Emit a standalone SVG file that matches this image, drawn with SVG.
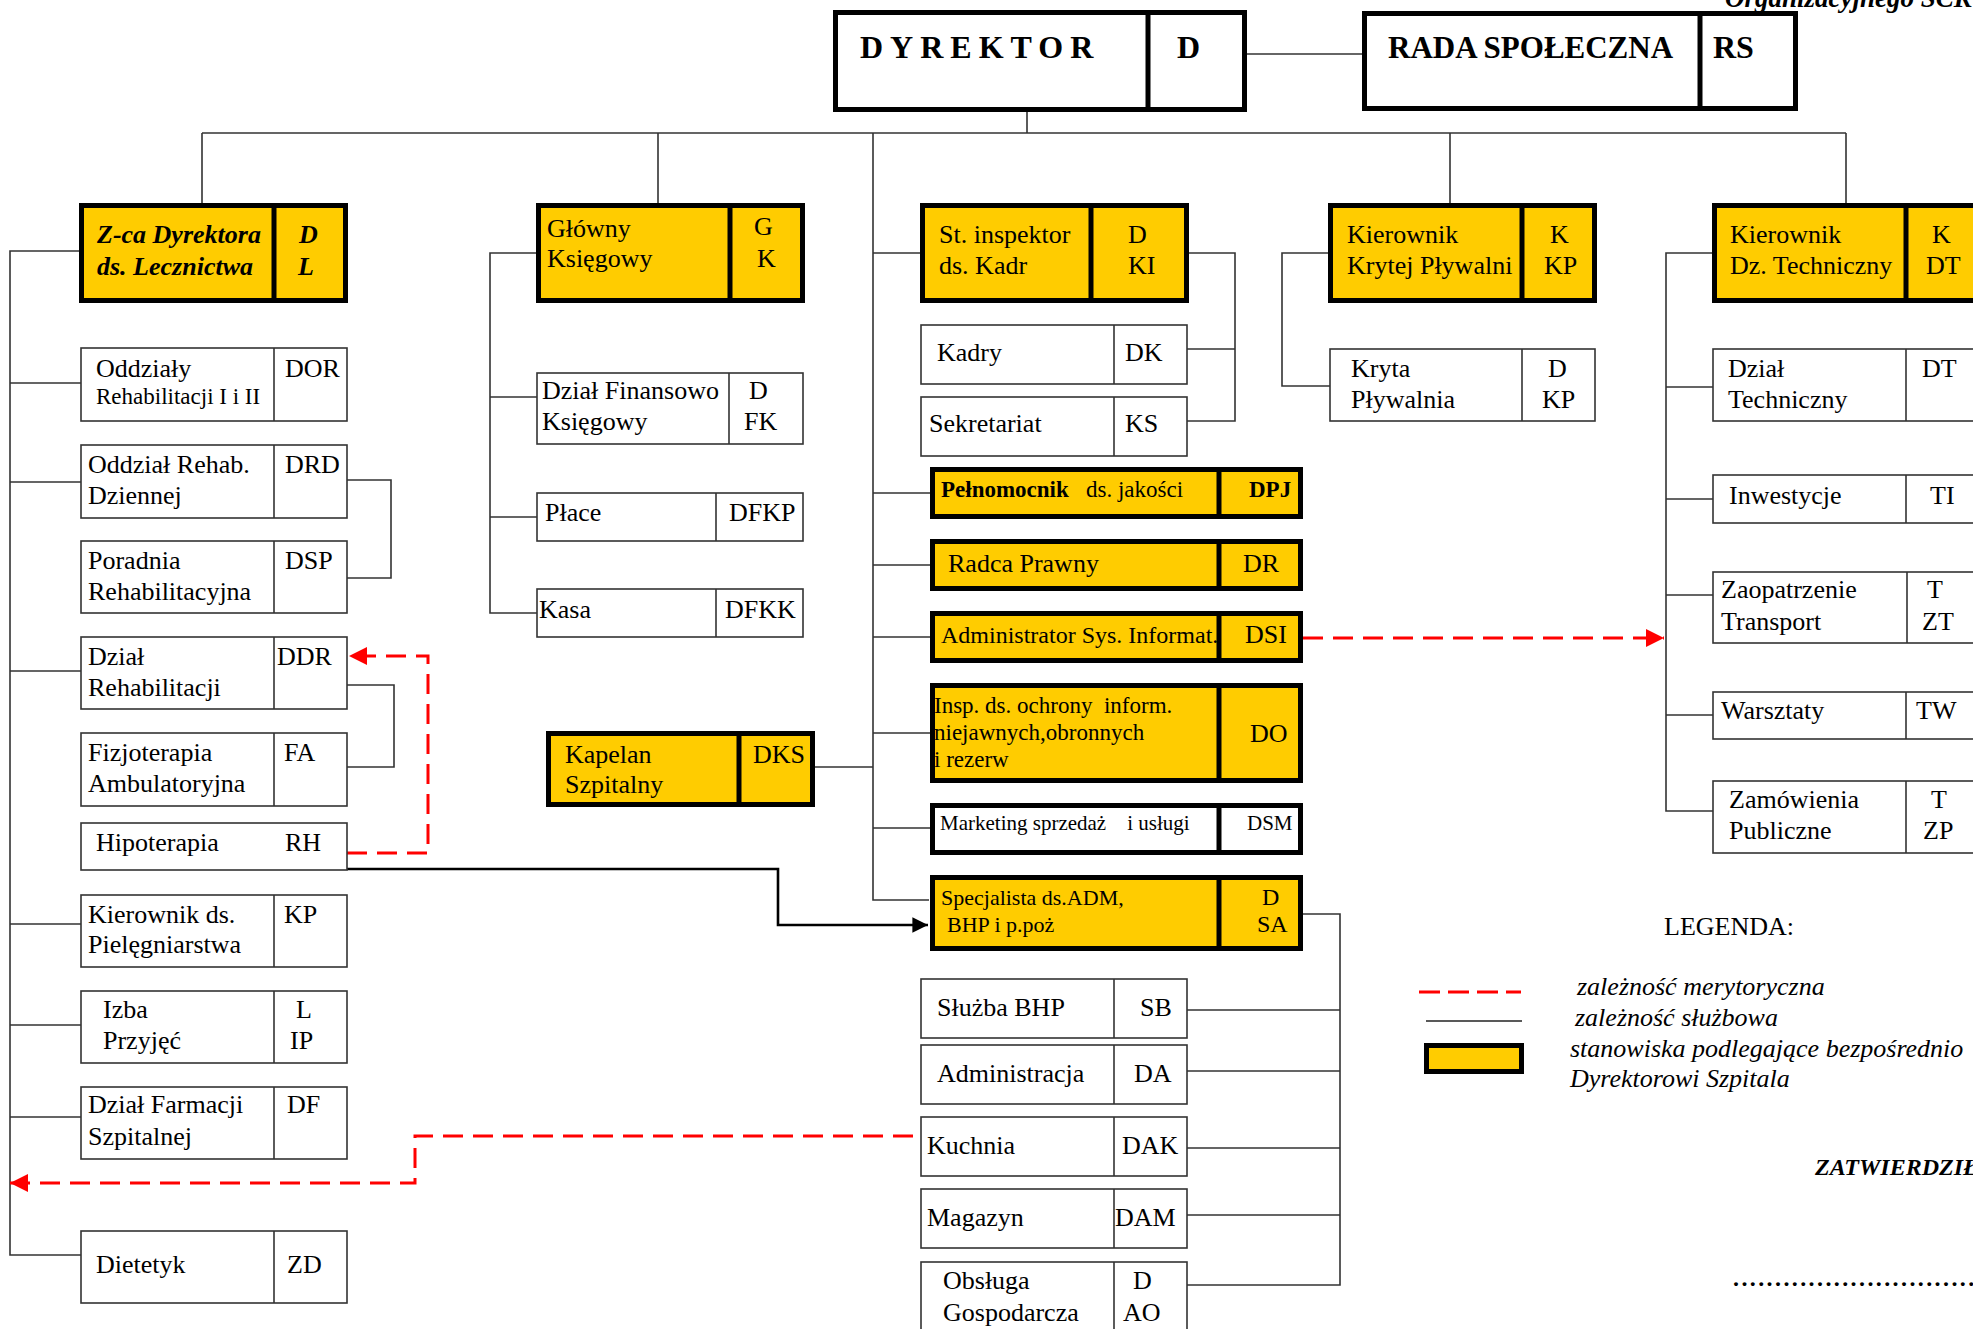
<svg xmlns="http://www.w3.org/2000/svg" width="1973" height="1329" viewBox="0 0 1973 1329">
<defs>
<style>
.box{fill:#fff;stroke:#333;stroke-width:1.6}
.yb{fill:#FFCC00;stroke:#000;stroke-width:5}
.wb{fill:#fff;stroke:#000;stroke-width:5}
.dv{stroke:#333;stroke-width:1.6}
.yd{stroke:#000;stroke-width:5}
.c{fill:none;stroke:#333;stroke-width:1.6}
.red{fill:none;stroke:#f00;stroke-width:3;stroke-dasharray:20 10}
text{font-family:"Liberation Serif","Times New Roman",serif;font-size:26px;fill:#000}
.s23{font-size:23px}
.s22{font-size:22px}
.s21{font-size:21px}
.s24{font-size:24px}
.b{font-weight:bold}
.bi{font-weight:bold;font-style:italic}
.i{font-style:italic}
.pre{white-space:pre}
</style>
<marker id="ar" viewBox="0 0 10 10" refX="10" refY="5" markerWidth="6" markerHeight="6" orient="auto" markerUnits="strokeWidth"><path d="M0,0L10,5L0,10z" fill="#f00"/></marker>
<marker id="ab" viewBox="0 0 10 10" refX="10" refY="5" markerWidth="6" markerHeight="6" orient="auto" markerUnits="strokeWidth"><path d="M0,0L10,5L0,10z" fill="#000"/></marker>
</defs>
<rect width="1973" height="1329" fill="#fff"/>
<text class="bi" x="1725" y="7" style="font-size:27px">Organizacyjnego SCK</text>

<g id="connectors">
<path class="c" d="M202,133H1846M202,133V203M658,133V203M1450,133V203M1846,133V203M1027,112V133M873,133V900H929"/>
<path class="c" d="M1247,54H1362"/>
<path class="c" d="M79,251H10V1255H81M10,383H81M10,482H81M10,671H81M10,924H81M10,1025H81M10,1117H81"/>
<path class="c" d="M347,480H391V578H347M347,685H394V767H347"/>
<path class="c" d="M536,253H490V613H537M490,397H537M490,517H537"/>
<path class="c" d="M873,253H920M873,493H930M873,565H930M873,637H930M873,733H930M873,828H930M815,767H873"/>
<path class="c" d="M1189,253H1235V421H1187M1187,349H1235"/>
<path class="c" d="M1303,914H1340V1285H1187M1187,1010H1340M1187,1071H1340M1187,1148H1340M1187,1215H1340"/>
<path class="c" d="M1328,253H1282V386H1330"/>
<path class="c" d="M1712,253H1666V811H1713M1666,387H1713M1666,499H1713M1666,595H1713M1666,715H1713"/>
<path d="M347,869H778V925H928" fill="none" stroke="#000" stroke-width="2.6" marker-end="url(#ab)"/>
<path class="red" d="M347,853H428V656H349" marker-end="url(#ar)"/>
<path class="red" d="M913,1136H415V1183H10" marker-end="url(#ar)"/>
<path class="red" d="M1303,638H1664" marker-end="url(#ar)"/>
</g>

<g id="dyrektor">
<rect class="wb" x="835.5" y="12.5" width="409" height="97"/>
<line class="yd" x1="1148" y1="12" x2="1148" y2="110"/>
<text class="b" x="860" y="58" style="font-size:32px;letter-spacing:7px">DYREKTOR</text>
<text class="b" x="1177" y="58" style="font-size:32px">D</text>
</g>
<g id="rada">
<rect class="wb" x="1364.5" y="13.5" width="431" height="95"/>
<line class="yd" x1="1700" y1="13" x2="1700" y2="109"/>
<text class="b" x="1388" y="58" style="font-size:31px">RADA SPOŁECZNA</text>
<text class="b" x="1713" y="58" style="font-size:32px">RS</text>
</g>

<g id="zca">
<rect class="yb" x="81.5" y="205.5" width="264" height="95"/>
<line class="yd" x1="274" y1="205" x2="274" y2="301"/>
<text class="bi" x="97" y="243">Z-ca Dyrektora</text>
<text class="bi" x="97" y="275">ds. Lecznictwa</text>
<text class="bi" x="299" y="243">D</text>
<text class="bi" x="298" y="275">L</text>
</g>
<g id="glowny">
<rect class="yb" x="538.5" y="205.5" width="264" height="95"/>
<line class="yd" x1="730" y1="205" x2="730" y2="301"/>
<text x="547" y="237">Główny</text>
<text x="547" y="267">Księgowy</text>
<text x="754" y="235">G</text>
<text x="757" y="267">K</text>
</g>
<g id="stinsp">
<rect class="yb" x="922.5" y="205.5" width="264" height="95"/>
<line class="yd" x1="1091" y1="205" x2="1091" y2="301"/>
<text x="939" y="243">St. inspektor</text>
<text x="939" y="274">ds. Kadr</text>
<text x="1128" y="243">D</text>
<text x="1128" y="274">KI</text>
</g>
<g id="krytej">
<rect class="yb" x="1330.5" y="205.5" width="264" height="95"/>
<line class="yd" x1="1522" y1="205" x2="1522" y2="301"/>
<text x="1347" y="243">Kierownik</text>
<text x="1347" y="274">Krytej Pływalni</text>
<text x="1550" y="243">K</text>
<text x="1544" y="274">KP</text>
</g>
<g id="dztech">
<rect class="yb" x="1714.5" y="205.5" width="290" height="95"/>
<line class="yd" x1="1906" y1="205" x2="1906" y2="301"/>
<text x="1730" y="243">Kierownik</text>
<text x="1730" y="274">Dz. Techniczny</text>
<text x="1932" y="243">K</text>
<text x="1926" y="274">DT</text>
</g>

<g id="oddzialy">
<rect class="box" x="81" y="348" width="266" height="73"/><line class="dv" x1="274" y1="348" x2="274" y2="421"/>
<text x="96" y="377">Oddziały</text><text class="s23" x="96" y="404">Rehabilitacji I i II</text><text x="285" y="377">DOR</text>
</g>
<g id="oddz-dziennej">
<rect class="box" x="81" y="445" width="266" height="73"/><line class="dv" x1="274" y1="445" x2="274" y2="518"/>
<text x="88" y="473">Oddział Rehab.</text><text x="88" y="504">Dziennej</text><text x="285" y="473">DRD</text>
</g>
<g id="poradnia">
<rect class="box" x="81" y="541" width="266" height="72"/><line class="dv" x1="274" y1="541" x2="274" y2="613"/>
<text x="88" y="569">Poradnia</text><text x="88" y="600">Rehabilitacyjna</text><text x="285" y="569">DSP</text>
</g>
<g id="dzial-rehab">
<rect class="box" x="81" y="637" width="266" height="72"/><line class="dv" x1="274" y1="637" x2="274" y2="709"/>
<text x="88" y="665">Dział</text><text x="88" y="696">Rehabilitacji</text><text x="277" y="665">DDR</text>
</g>
<g id="fizjo">
<rect class="box" x="81" y="733" width="266" height="73"/><line class="dv" x1="274" y1="733" x2="274" y2="806"/>
<text x="88" y="761">Fizjoterapia</text><text x="88" y="792">Ambulatoryjna</text><text x="284" y="761">FA</text>
</g>
<g id="hipo">
<rect class="box" x="81" y="823" width="266" height="47"/>
<text x="96" y="851">Hipoterapia</text><text x="285" y="851">RH</text>
</g>
<g id="pieleg">
<rect class="box" x="81" y="895" width="266" height="72"/><line class="dv" x1="274" y1="895" x2="274" y2="967"/>
<text x="88" y="923">Kierownik ds.</text><text x="88" y="953">Pielęgniarstwa</text><text x="284" y="923">KP</text>
</g>
<g id="izba">
<rect class="box" x="81" y="991" width="266" height="72"/><line class="dv" x1="274" y1="991" x2="274" y2="1063"/>
<text x="103" y="1018">Izba</text><text x="103" y="1049">Przyjęć</text><text x="296" y="1018">L</text><text x="290" y="1049">IP</text>
</g>
<g id="farmacja">
<rect class="box" x="81" y="1087" width="266" height="72"/><line class="dv" x1="274" y1="1087" x2="274" y2="1159"/>
<text x="88" y="1113">Dział Farmacji</text><text x="88" y="1145">Szpitalnej</text><text x="287" y="1113">DF</text>
</g>
<g id="dietetyk">
<rect class="box" x="81" y="1231" width="266" height="72"/><line class="dv" x1="274" y1="1231" x2="274" y2="1303"/>
<text x="96" y="1273">Dietetyk</text><text x="287" y="1273">ZD</text>
</g>

<g id="finanse">
<rect class="box" x="537" y="373" width="266" height="71"/><line class="dv" x1="729" y1="373" x2="729" y2="444"/>
<text x="542" y="399">Dział Finansowo</text><text x="542" y="430">Księgowy</text><text x="749" y="399">D</text><text x="744" y="430">FK</text>
</g>
<g id="place">
<rect class="box" x="537" y="493" width="266" height="48"/><line class="dv" x1="716" y1="493" x2="716" y2="541"/>
<text x="545" y="521">Płace</text><text x="729" y="521">DFKP</text>
</g>
<g id="kasa">
<rect class="box" x="537" y="589" width="266" height="48"/><line class="dv" x1="716" y1="589" x2="716" y2="637"/>
<text x="539" y="618">Kasa</text><text x="725" y="618">DFKK</text>
</g>
<g id="kapelan">
<rect class="yb" x="548.5" y="733.5" width="264" height="71"/><line class="yd" x1="739" y1="733" x2="739" y2="805"/>
<text x="565" y="763">Kapelan</text><text x="565" y="793">Szpitalny</text><text x="753" y="763">DKS</text>
</g>

<g id="kadry">
<rect class="box" x="921" y="325" width="266" height="59"/><line class="dv" x1="1114" y1="325" x2="1114" y2="384"/>
<text x="937" y="361">Kadry</text><text x="1125" y="361">DK</text>
</g>
<g id="sekretariat">
<rect class="box" x="921" y="397" width="266" height="59"/><line class="dv" x1="1114" y1="397" x2="1114" y2="456"/>
<text x="929" y="432">Sekretariat</text><text x="1125" y="432">KS</text>
</g>
<g id="pelnomocnik">
<rect class="yb" x="932.5" y="469.5" width="368" height="47"/><line class="yd" x1="1219" y1="469" x2="1219" y2="517"/>
<text class="s23 pre" x="941" y="497"><tspan class="b">Pełnomocnik</tspan>   ds. jakości</text><text class="s23 b" x="1249" y="497">DPJ</text>
</g>
<g id="radca">
<rect class="yb" x="932.5" y="541.5" width="368" height="47"/><line class="yd" x1="1219" y1="541" x2="1219" y2="589"/>
<text x="948" y="572">Radca Prawny</text><text x="1243" y="572">DR</text>
</g>
<g id="admin-sys">
<rect class="yb" x="932.5" y="613.5" width="368" height="47"/><line class="yd" x1="1219" y1="613" x2="1219" y2="661"/>
<text class="s24" x="941" y="643">Administrator Sys. Informat.</text><text x="1245" y="643">DSI</text>
</g>
<g id="insp">
<rect class="yb" x="932.5" y="685.5" width="368" height="95"/><line class="yd" x1="1219" y1="685" x2="1219" y2="781"/>
<text class="s23 pre" x="934" y="713">Insp. ds. ochrony  inform.</text><text class="s23" x="934" y="740">niejawnych,obronnych</text><text class="s23" x="934" y="767">i rezerw</text>
<text x="1250" y="742">DO</text>
</g>
<g id="marketing">
<rect class="wb" x="932.5" y="805.5" width="368" height="47"/><line class="yd" x1="1219" y1="805" x2="1219" y2="853"/>
<text class="s21 pre" x="940" y="830">Marketing sprzedaż    i usługi</text><text class="s21" x="1247" y="830">DSM</text>
</g>
<g id="specjalista">
<rect class="yb" x="932.5" y="877.5" width="368" height="71"/><line class="yd" x1="1219" y1="877" x2="1219" y2="949"/>
<text class="s22" x="941" y="905">Specjalista ds.ADM,</text><text class="s22" x="947" y="932">BHP i p.poż</text>
<text class="s24" x="1262" y="905">D</text><text class="s24" x="1257" y="932">SA</text>
</g>
<g id="bhp">
<rect class="box" x="921" y="979" width="266" height="59"/><line class="dv" x1="1114" y1="979" x2="1114" y2="1038"/>
<text x="937" y="1016">Służba BHP</text><text x="1140" y="1016">SB</text>
</g>
<g id="administracja">
<rect class="box" x="921" y="1045" width="266" height="59"/><line class="dv" x1="1114" y1="1045" x2="1114" y2="1104"/>
<text x="937" y="1082">Administracja</text><text x="1134" y="1082">DA</text>
</g>
<g id="kuchnia">
<rect class="box" x="921" y="1117" width="266" height="59"/><line class="dv" x1="1114" y1="1117" x2="1114" y2="1176"/>
<text x="927" y="1154">Kuchnia</text><text x="1122" y="1154">DAK</text>
</g>
<g id="magazyn">
<rect class="box" x="921" y="1189" width="266" height="59"/><line class="dv" x1="1114" y1="1189" x2="1114" y2="1248"/>
<text x="927" y="1226">Magazyn</text><text x="1115" y="1226">DAM</text>
</g>
<g id="obsluga">
<rect class="box" x="921" y="1262" width="266" height="90"/><line class="dv" x1="1114" y1="1262" x2="1114" y2="1352"/>
<text x="943" y="1289">Obsługa</text><text x="943" y="1321">Gospodarcza</text><text x="1133" y="1289">D</text><text x="1123" y="1321">AO</text>
</g>

<g id="kryta">
<rect class="box" x="1330" y="349" width="265" height="72"/><line class="dv" x1="1522" y1="349" x2="1522" y2="421"/>
<text x="1351" y="377">Kryta</text><text x="1351" y="408">Pływalnia</text><text x="1548" y="377">D</text><text x="1542" y="408">KP</text>
</g>
<g id="dzial-tech">
<rect class="box" x="1713" y="349" width="290" height="72"/><line class="dv" x1="1906" y1="349" x2="1906" y2="421"/>
<text x="1728" y="377">Dział</text><text x="1728" y="408">Techniczny</text><text x="1922" y="377">DT</text>
</g>
<g id="inwestycje">
<rect class="box" x="1713" y="475" width="290" height="48"/><line class="dv" x1="1906" y1="475" x2="1906" y2="523"/>
<text x="1729" y="504">Inwestycje</text><text x="1930" y="504">TI</text>
</g>
<g id="zaopatrzenie">
<rect class="box" x="1713" y="572" width="290" height="71"/><line class="dv" x1="1907" y1="572" x2="1907" y2="643"/>
<text x="1721" y="598">Zaopatrzenie</text><text x="1721" y="630">Transport</text><text x="1927" y="598">T</text><text x="1922" y="630">ZT</text>
</g>
<g id="warsztaty">
<rect class="box" x="1713" y="692" width="290" height="47"/><line class="dv" x1="1906" y1="692" x2="1906" y2="739"/>
<text x="1721" y="719">Warsztaty</text><text x="1916" y="719">TW</text>
</g>
<g id="zamowienia">
<rect class="box" x="1713" y="781" width="290" height="72"/><line class="dv" x1="1906" y1="781" x2="1906" y2="853"/>
<text x="1729" y="808">Zamówienia</text><text x="1729" y="839">Publiczne</text><text x="1931" y="808">T</text><text x="1923" y="839">ZP</text>
</g>

<g id="legend">
<text x="1664" y="935">LEGENDA:</text>
<line x1="1419" y1="992" x2="1521" y2="992" stroke="#f00" stroke-width="3" stroke-dasharray="21 8"/>
<line x1="1426" y1="1021" x2="1522" y2="1021" stroke="#222" stroke-width="1.4"/>
<rect class="yb" x="1426.5" y="1045.5" width="95" height="26"/>
<text class="i" x="1577" y="995">zależność merytoryczna</text>
<text class="i" x="1575" y="1026">zależność służbowa</text>
<text class="i" x="1570" y="1057">stanowiska podlegające bezpośrednio</text>
<text class="i" x="1570" y="1087">Dyrektorowi Szpitala</text>
<text class="bi s24" x="1815" y="1175">ZATWIERDZIŁ</text>
<text class="b s24" x="1733" y="1286" style="letter-spacing:2.4px">..............................</text>
</g>
</svg>
